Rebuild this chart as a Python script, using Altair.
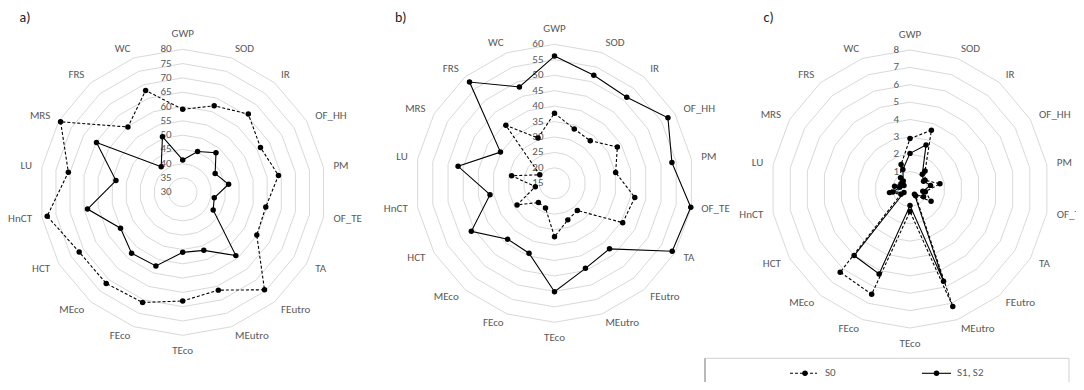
import altair as alt
import pandas as pd

# ---------------- data ----------------
categories = ["GWP", "SOD", "IR", "OF_HH", "PM", "OF_TE", "TA", "FEutro", "MEutro",
              "TEco", "FEco", "MEco", "HCT", "HnCT", "LU", "MRS", "FRS", "WC"]

a_s0 = [59.0, 62.2, 65.7, 61.4, 64.0, 59.5, 59.9, 74.5, 66.4, 68.0, 71.0, 71.6, 71.8, 78.1, 70.6, 79.3, 59.8, 67.9]
a_s1 = [41.3, 45.2, 48.1, 43.1, 46.3, 41.2, 42.3, 58.9, 51.6, 51.0, 57.4, 57.8, 55.1, 63.8, 53.7, 64.8, 41.7, 50.7]

b_s0 = [37.7, 33.7, 33.0, 38.5, 35.1, 41.4, 40.5, 26.5, 27.6, 32.3, 23.5, 23.1, 29.0, 21.3, 29.1, 20.5, 39.5, 30.6]
b_s1 = [56.2, 52.2, 51.4, 57.4, 53.6, 59.8, 59.0, 42.7, 44.3, 50.1, 39.1, 38.6, 46.1, 36.2, 46.7, 35.2, 57.8, 48.2]

c_s0 = [2.9, 3.6, 1.35, 1.0, 1.75, 0.9, 1.4, 0.5, 7.2, 1.3, 6.45, 6.25, 0.6, 1.2, 0.9, 0.6, 0.85, 1.5]
c_s1 = [2.05, 2.7, 1.1, 0.9, 1.2, 0.75, 0.9, 0.4, 5.65, 0.95, 5.2, 5.0, 0.4, 1.0, 0.6, 0.4, 0.6, 1.2]

a_ticks = [30, 35, 40, 45, 50, 55, 60, 65, 70, 75, 80]
b_ticks = [15, 20, 25, 30, 35, 40, 45, 50, 55, 60]
c_ticks = [0, 1, 2, 3, 4, 5, 6, 7, 8]

series_names = ["S0", "S1, S2"]
panel_titles = ["a)", "b)", "c)"]

# ---------------- layout (pixels in chart space) ----------------
W, H = 1068, 374
layout = {
    "a": dict(cx=174.7, cy=184.3, R=143.0, tx=11.5),
    "b": dict(cx=546.5, cy=175.3, R=139.0, tx=387.0),
    "c": dict(cx=902.0, cy=181.0, R=139.0, tx=755.5),
}
panel_data = {
    "a": (a_s0, a_s1, a_ticks),
    "b": (b_s0, b_s1, b_ticks),
    "c": (c_s0, c_s1, c_ticks),
}

series_rows, ring_rows, tick_rows, cat_rows, title_rows = [], [], [], [], []
for (p, (s0, s1, ticks)), title in zip(panel_data.items(), panel_titles):
    L = layout[p]
    base = dict(panel=p, cx=L["cx"], cy=L["cy"], R=L["R"], vmin=ticks[0], vmax=ticks[-1])
    for sname, vals in zip(series_names, (s0, s1)):
        for k in range(19):
            series_rows.append(dict(base, series=sname, k=k, value=vals[k % 18]))
    for t in ticks[1:]:
        for k in range(19):
            ring_rows.append(dict(base, ring=t, k=k, value=t))
    for t in ticks:
        tick_rows.append(dict(base, k=0, value=t, label=str(t)))
    for k, c in enumerate(categories):
        cat_rows.append(dict(base, k=k, value=ticks[-1], label=c))
    title_rows.append(dict(panel=p, label=title, tx=L["tx"]))

series_df = pd.DataFrame(series_rows)
ring_df = pd.DataFrame(ring_rows)
tick_df = pd.DataFrame(tick_rows)
cat_df = pd.DataFrame(cat_rows)
title_df = pd.DataFrame(title_rows)

FONT = "Carlito, Lato, sans-serif"
GRAY_TXT = "#595959"

xs = alt.Scale(domain=[0, W], nice=False, zero=False)
ys = alt.Scale(domain=[0, H], nice=False, zero=False, reverse=True)


def polar(chart, extra=0):
    return chart.transform_calculate(
        theta="datum.k * PI / 9",
        rr=f"(datum.value - datum.vmin) / (datum.vmax - datum.vmin) * datum.R + {extra}",
    ).transform_calculate(
        px="datum.cx + datum.rr * sin(datum.theta)",
        py="datum.cy - datum.rr * cos(datum.theta)",
    )


X = alt.X("px:Q", scale=xs, axis=None)
Y = alt.Y("py:Q", scale=ys, axis=None)

rings = polar(alt.Chart(ring_df).mark_line(color="#d9d9d9", strokeWidth=1)).encode(
    x=X, y=Y, detail=["panel:N", "ring:Q"], order="k:Q"
)

ticks_layer = polar(alt.Chart(tick_df).mark_text(
    align="right", baseline="middle", dx=-11, font=FONT, fontSize=11, color=GRAY_TXT
)).encode(x=X, y=Y, text="label:N")


def cat_layer(filter_expr, align, baseline):
    return polar(alt.Chart(cat_df).transform_filter(filter_expr).mark_text(
        align=align, baseline=baseline, font=FONT, fontSize=11, color=GRAY_TXT
    ), extra=10).encode(x=X, y=Y, text="label:N")


cats_right = cat_layer("datum.k > 0 && datum.k < 9", "left", "middle")
cats_left = cat_layer("datum.k > 9", "right", "middle")
cats_top = cat_layer("datum.k == 0", "center", "bottom")
cats_bot = cat_layer("datum.k == 9", "center", "top")

line_s0 = polar(alt.Chart(series_df).transform_filter("datum.series == 'S0'").mark_line(
    color="black", strokeWidth=1.1, strokeDash=[3, 2]
)).encode(x=X, y=Y, detail="panel:N", order="k:Q")

line_s1 = polar(alt.Chart(series_df).transform_filter("datum.series != 'S0'").mark_line(
    color="black", strokeWidth=1.1
)).encode(x=X, y=Y, detail="panel:N", order="k:Q")

pts = polar(alt.Chart(series_df).transform_filter("datum.k < 18").mark_point(
    filled=True, color="black", size=30, opacity=1
)).encode(x=X, y=Y)

titles = alt.Chart(title_df).mark_text(
    align="left", baseline="alphabetic", font=FONT, fontSize=14, color="#222222"
).encode(x=alt.X("tx:Q", scale=xs, axis=None), y=alt.value(13.5), text="label:N")

# legend box & entries
leg_y = 365.3
leg_box = alt.Chart(title_df).mark_rect(fill="white", stroke="#d0d0d0", strokeWidth=1).encode(
    x=alt.value(697), x2=alt.value(1061), y=alt.value(350.3), y2=alt.value(381.5)
).transform_filter("datum.panel == 'a'")
leg_left = alt.Chart(title_df).mark_rule(color="#8a8a8a", strokeWidth=1).encode(
    x=alt.value(697), y=alt.value(350.3), y2=alt.value(381.5)
).transform_filter("datum.panel == 'a'")

leg_df = pd.DataFrame({"series": series_names})
leg_line0 = alt.Chart(leg_df).transform_filter("datum.series == 'S0'").mark_rule(
    color="black", strokeWidth=1.1, strokeDash=[3, 2]
).encode(x=alt.value(782), x2=alt.value(809), y=alt.value(leg_y))
leg_line1 = alt.Chart(leg_df).transform_filter("datum.series != 'S0'").mark_rule(
    color="black", strokeWidth=1.1
).encode(x=alt.value(914), x2=alt.value(943), y=alt.value(leg_y))
leg_pt0 = alt.Chart(leg_df).transform_filter("datum.series == 'S0'").mark_point(
    filled=True, color="black", size=30, opacity=1
).encode(x=alt.value(797), y=alt.value(leg_y))
leg_pt1 = alt.Chart(leg_df).transform_filter("datum.series != 'S0'").mark_point(
    filled=True, color="black", size=30, opacity=1
).encode(x=alt.value(928.5), y=alt.value(leg_y))
leg_txt0 = alt.Chart(leg_df).transform_filter("datum.series == 'S0'").mark_text(
    align="left", baseline="middle", font=FONT, fontSize=11, color=GRAY_TXT
).encode(x=alt.value(817), y=alt.value(leg_y), text="series:N")
leg_txt1 = alt.Chart(leg_df).transform_filter("datum.series != 'S0'").mark_text(
    align="left", baseline="middle", font=FONT, fontSize=11, color=GRAY_TXT
).encode(x=alt.value(949), y=alt.value(leg_y), text="series:N")

chart = alt.layer(
    rings, ticks_layer, cats_right, cats_left, cats_top, cats_bot,
    line_s0, line_s1, pts, titles,
    leg_box, leg_left, leg_line0, leg_line1, leg_pt0, leg_pt1, leg_txt0, leg_txt1,
).properties(
    width=W, height=H, padding=0,
    autosize=alt.AutoSizeParams(type="none"),
    background="white",
).configure_view(strokeWidth=0)

chart.save("out.html", embed_options={"renderer": "svg", "actions": False})
